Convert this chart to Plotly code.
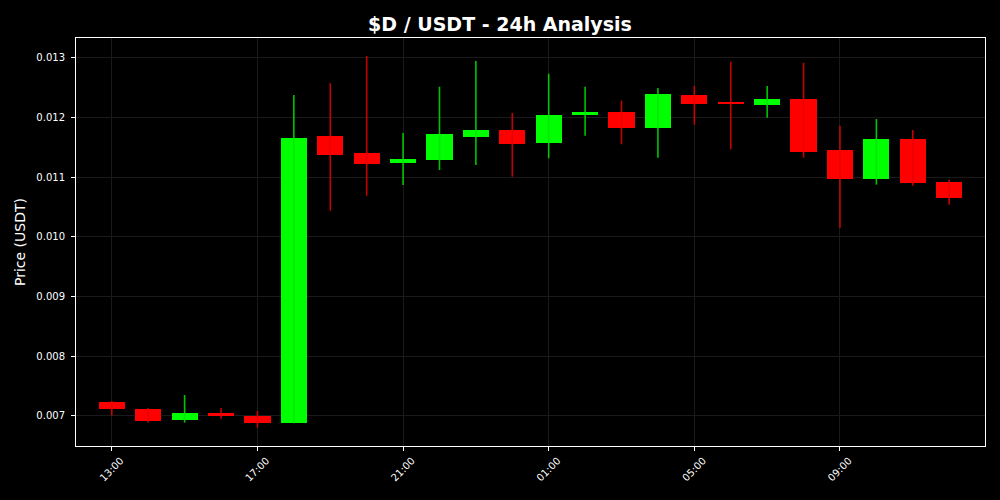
import plotly.graph_objects as go

times = ["2024-01-01 13:00", "2024-01-01 14:00", "2024-01-01 15:00", "2024-01-01 16:00",
         "2024-01-01 17:00", "2024-01-01 18:00", "2024-01-01 19:00", "2024-01-01 20:00",
         "2024-01-01 21:00", "2024-01-01 22:00", "2024-01-01 23:00", "2024-01-02 00:00",
         "2024-01-02 01:00", "2024-01-02 02:00", "2024-01-02 03:00", "2024-01-02 04:00",
         "2024-01-02 05:00", "2024-01-02 06:00", "2024-01-02 07:00", "2024-01-02 08:00",
         "2024-01-02 09:00", "2024-01-02 10:00", "2024-01-02 11:00", "2024-01-02 12:00"]
opens = [0.007230, 0.007118, 0.006939, 0.007056, 0.007000, 0.006888, 0.011693, 0.011413,
         0.011246, 0.011291, 0.011676, 0.011798, 0.011581, 0.012050, 0.012100, 0.011832,
         0.012380, 0.012268, 0.012217, 0.012313, 0.011463, 0.010977, 0.011643, 0.010922]
highs = [0.007252, 0.007134, 0.007352, 0.007134, 0.007084, 0.012380, 0.012576, 0.013034,
         0.011743, 0.012519, 0.012950, 0.012078, 0.012737, 0.012519, 0.012285, 0.012497,
         0.012531, 0.012938, 0.012531, 0.012921, 0.011865, 0.011978, 0.011793, 0.010961]
lows = [0.007005, 0.006888, 0.006888, 0.006955, 0.006804, 0.006880, 0.010441, 0.010692,
        0.010872, 0.011123, 0.011207, 0.011011, 0.011319, 0.011698, 0.011554, 0.011329,
        0.011882, 0.011470, 0.011999, 0.011329, 0.010156, 0.010877, 0.010860, 0.010541]
closes = [0.007113, 0.006917, 0.007056, 0.007006, 0.006888, 0.011665, 0.011374, 0.011224,
          0.011302, 0.011726, 0.011798, 0.011564, 0.012050, 0.012095, 0.011832, 0.012402,
          0.012234, 0.012234, 0.012313, 0.011430, 0.010977, 0.011643, 0.010905, 0.010659]

UP = "#00ff00"
DOWN = "#ff0000"
UP_WICK = "rgba(0,230,0,0.85)"
DOWN_WICK = "rgba(230,0,0,0.85)"
HOUR_MS = 3600 * 1000
BODY_W = 0.72 * HOUR_MS

fig = go.Figure()

# wicks
for up, color in [(True, UP_WICK), (False, DOWN_WICK)]:
    wx, wy = [], []
    for t, o, h, l, c in zip(times, opens, highs, lows, closes):
        if (c >= o) == up:
            wx += [t, t, None]
            wy += [l, h, None]
    fig.add_trace(go.Scatter(x=wx, y=wy, mode="lines", line=dict(color=color, width=1.6),
                             showlegend=False, hoverinfo="skip"))

# bodies
for up, color in [(True, UP), (False, DOWN)]:
    bx, bb, bh = [], [], []
    for t, o, c in zip(times, opens, closes):
        if (c >= o) == up:
            bx.append(t)
            bb.append(min(o, c))
            bh.append(max(abs(c - o), 0.00003))
    fig.add_trace(go.Bar(x=bx, y=bh, base=bb, width=BODY_W,
                         marker=dict(color=color, line=dict(width=0)),
                         showlegend=False))

axis_common = dict(
    showline=True, linecolor="white", linewidth=1, mirror=True,
    ticks="outside", ticklen=4, tickcolor="white",
    tickfont=dict(color="white", size=10, family="DejaVu Sans"),
    showgrid=True, gridcolor="#1a1a1a", gridwidth=1, zeroline=False,
)

fig.update_layout(
    width=1000, height=500,
    paper_bgcolor="black", plot_bgcolor="black",
    margin=dict(l=76, r=15, t=38, b=54),
    title=dict(text="<b>$D / USDT - 24h Analysis</b>", x=0.5, xanchor="center",
               y=0.952, yanchor="middle",
               font=dict(color="white", size=19, family="DejaVu Sans")),
    bargap=0,
    xaxis=dict(
        type="date",
        range=["2024-01-01 12:01", "2024-01-02 12:59"],
        tick0="2024-01-01 13:00", dtick=4 * HOUR_MS, tickformat="%H:%M",
        tickangle=-45, ticklabelshift=9,
        **axis_common,
    ),
    yaxis=dict(
        range=[0.006497, 0.013335],
        tick0=0.007, dtick=0.001, tickformat=".3f",
        ticklabelstandoff=4,
        title=dict(text="Price (USDT)", font=dict(color="white", size=14, family="DejaVu Sans"),
                   standoff=7),
        **axis_common,
    ),
    font=dict(family="DejaVu Sans", color="white"),
)

fig.write_html("out.html", config={"displayModeBar": False},
               post_script="document.body.style.margin='0';document.body.style.background='black';")
